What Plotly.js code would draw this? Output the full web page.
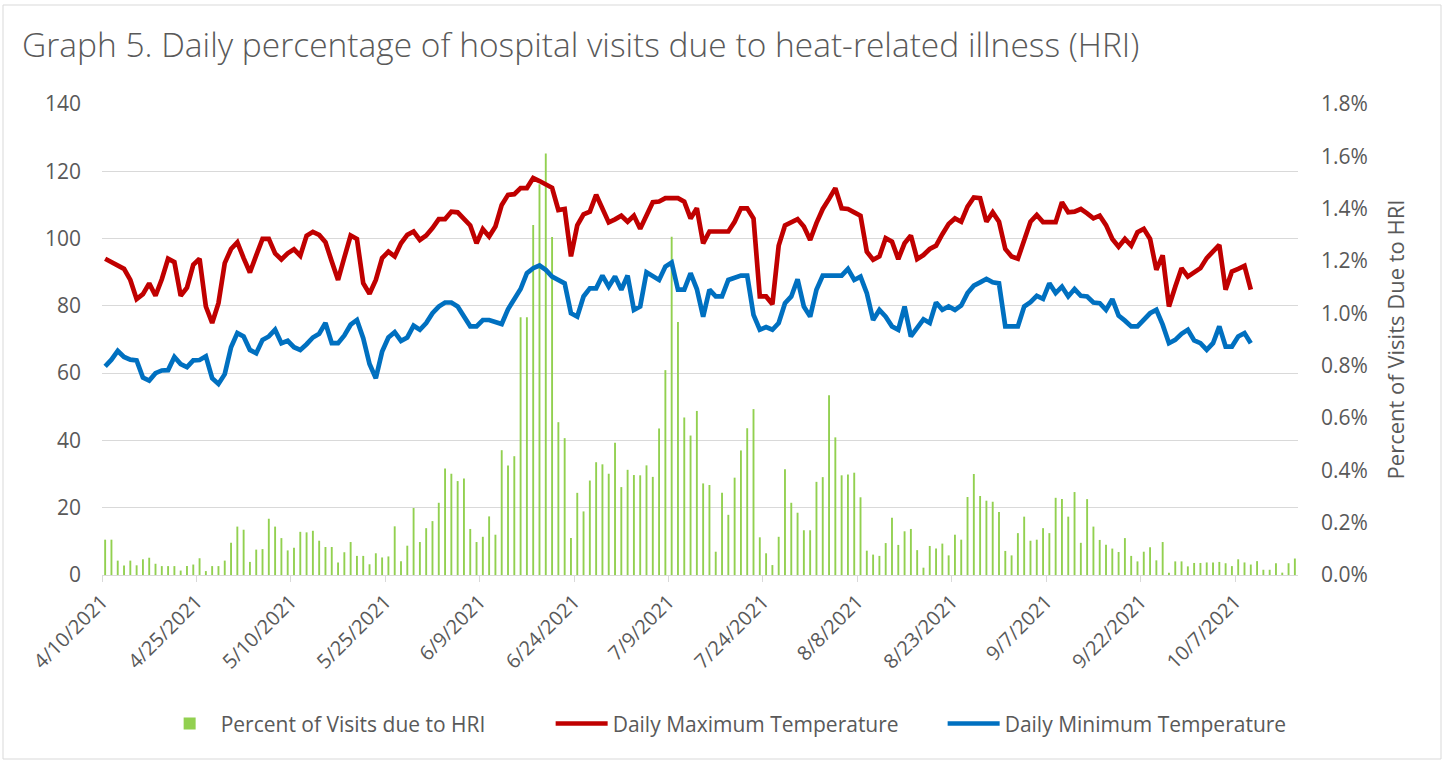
<!DOCTYPE html>
<html>
<head>
<meta charset="utf-8">
<script src="https://cdn.plot.ly/plotly-3.0.1.min.js"></script>
<style>html,body{margin:0;padding:0;background:#fff}#chart{width:1447px;height:762px}</style>
</head>
<body>
<div id="chart"></div>
<script>
// ---- data ----
var startDate = "2021-04-10";   // first day of the series (190 days to 10/16/2021)

// Percent of hospital visits due to HRI (in %), one per day from 4/10/2021
var hriPercent = [
  0.135, 0.135, 0.055, 0.036, 0.055, 0.037, 0.060, 0.066, 0.043, 0.034, 0.034, 0.034, 0.017, 0.034, 0.040, 0.064,
  0.015, 0.034, 0.034, 0.055, 0.123, 0.185, 0.173, 0.050, 0.097, 0.099, 0.215, 0.185, 0.141, 0.094, 0.104, 0.165,
  0.163, 0.169, 0.131, 0.107, 0.107, 0.048, 0.087, 0.126, 0.073, 0.073, 0.041, 0.083, 0.067, 0.071, 0.186, 0.053,
  0.112, 0.256, 0.126, 0.179, 0.206, 0.276, 0.407, 0.387, 0.359, 0.369, 0.176, 0.126, 0.146, 0.224,
  0.154, 0.477, 0.418, 0.454, 0.985, 0.985, 1.338, 1.493, 1.611, 1.292, 0.584, 0.523, 0.141, 0.314, 0.243, 0.361,
  0.431, 0.423, 0.387, 0.505, 0.336, 0.402, 0.382, 0.381, 0.419, 0.375, 0.560, 0.783, 1.293, 0.967, 0.602, 0.533,
  0.627, 0.350, 0.344, 0.089, 0.314, 0.230, 0.372, 0.476, 0.561, 0.634, 0.144, 0.083, 0.038, 0.146, 0.404, 0.276,
  0.238, 0.171, 0.171, 0.356, 0.374, 0.687, 0.526, 0.381, 0.384, 0.391, 0.297, 0.093, 0.078, 0.073, 0.122, 0.219,
  0.115, 0.167, 0.176, 0.095, 0.028, 0.111, 0.101, 0.120, 0.075, 0.154, 0.135, 0.298, 0.386, 0.302, 0.284, 0.280,
  0.241, 0.092, 0.075, 0.160, 0.223, 0.131, 0.135, 0.179, 0.160, 0.295, 0.290, 0.223, 0.317, 0.123, 0.290,
  0.185, 0.134, 0.116, 0.101, 0.088, 0.141, 0.073, 0.052, 0.089, 0.106, 0.056, 0.126, 0.009, 0.052, 0.052, 0.033,
  0.046, 0.046, 0.048, 0.048, 0.050, 0.045, 0.034, 0.060, 0.048, 0.040, 0.053, 0.020, 0.020, 0.045, 0.009, 0.045, 0.063
];

// Daily maximum temperature, 4/10/2021 .. 10/9/2021
var maxTemp = [
  94, 93, 92, 91, 87.7, 82, 83.5, 86.7, 83, 87.9, 94, 93, 83, 85.4, 92.2, 94, 79.8, 74.9, 80.8, 92.7, 96.9, 98.9,
  94.2, 89.9, 95, 99.9, 99.9, 95.6, 93.8, 95.6, 96.8, 94.9,
  100.8, 102, 101.1, 98.9, 93.2, 87.7, 94.4, 100.9, 99.9, 86.7, 83.6, 87.7, 94.2, 96.1, 94.7, 98.6, 101.1, 102.1,
  99.6, 100.9, 103.1, 105.8, 105.8, 108, 107.8, 106, 103.9, 98.6, 102.8, 100.6,
  103.6, 110, 113, 113.2, 115, 115, 118, 117.1, 116.1, 115.1, 108.5, 108.8, 94.7, 103.9, 107.2, 108, 113, 108.7,
  104.8, 105.7, 106.8, 105, 106.8, 102.9, 106.8, 110.8, 111, 112, 112, 112, 111, 106,
  109, 98.6, 102.1, 102.1, 102.1, 102.1, 105, 109, 109, 106, 82.8, 82.8, 80.5, 97.9, 103.9, 104.9, 105.8, 103.6,
  99.6, 104.6, 108.8, 111.8, 115, 109, 108.8, 107.8, 106.8, 96.1, 93.7, 94.7, 100.1, 99.1,
  93.9, 98.6, 100.9, 93.9, 95.1, 96.9, 97.9, 101.3, 104.3, 106, 105, 109.5, 112.2, 112, 105, 107.8, 105, 96.9,
  94.7, 94, 99.6, 105, 107, 104.9, 104.9, 104.9, 110.8, 107.8, 108, 108.8, 107.5,
  106, 106.8, 104, 99.9, 97.6, 99.9, 97.9, 101.9, 102.9, 99.9, 90.7, 95, 79.8, 85.7, 91.2, 88.7, 90, 91.2, 94.2,
  96.1, 98.1, 84.8, 90.2, 91, 91.9, 84.8
];

// Daily minimum temperature, 4/10/2021 .. 10/9/2021
var minTemp = [
  62, 64, 66.6, 64.8, 64, 63.8, 58.7, 57.8, 60, 60.8, 60.9, 64.8, 62.7, 61.8, 63.8, 63.9, 65, 58.5, 56.8, 59.7,
  67.7, 71.9, 70.9, 66.9, 65.9, 69.9, 70.9, 72.9, 68.9, 69.6, 67.7, 66.9,
  68.6, 70.6, 71.7, 74.9, 68.9, 68.9, 71.2, 74.4, 75.8, 70.4, 62.7, 58.5, 66.4, 70.6, 72.2, 69.6, 70.6, 74.1,
  72.9, 74.9, 77.8, 79.8, 81, 81, 79.8, 76.8, 73.9, 73.9, 75.8, 75.8,
  75.3, 74.6, 79, 82.1, 85, 89.7, 91.2, 92, 90.7, 88.7, 87.7, 86.7, 77.8, 76.8, 82.8, 85.2, 85.2, 89, 85.7, 88.7,
  84.8, 89, 78.8, 79.8, 90, 88.7, 87.7, 91.7, 92.9, 84.8, 84.8, 89.7,
  85, 76.8, 84.8, 82.8, 82.8, 87.7, 88.2, 89, 89, 77.3, 72.9, 73.7, 72.9, 74.9, 80.8, 82.8, 87.9, 79.8, 76.8,
  84.8, 89, 89, 89, 89, 91, 87.7, 88.7, 83.8, 75.8, 78.8, 76.8, 73.9,
  72.9, 79.8, 70.9, 73.4, 76, 74.9, 81, 78.8, 79.8, 78.8, 80.1, 83.8, 86, 87, 88, 87, 86.7, 73.9, 73.9, 73.9,
  79.8, 81.1, 83, 82.1, 86.7, 83.8, 85.7, 82.8, 85, 83, 82.8,
  81, 80.8, 78.8, 82, 77.1, 75.6, 73.9, 73.9, 75.8, 77.8, 78.8, 74.4, 68.9, 69.9, 71.7, 72.9, 69.7, 68.9, 66.9,
  68.9, 73.9, 67.9, 67.9, 70.9, 71.9, 68.9
];

var tickEveryDays = 15;
var leftTicks = [0, 20, 40, 60, 80, 100, 120, 140];
var rightTicks = [0, 0.2, 0.4, 0.6, 0.8, 1.0, 1.2, 1.4, 1.6, 1.8];
var rightTickText = ["0.0%", "0.2%", "0.4%", "0.6%", "0.8%", "1.0%", "1.2%", "1.4%", "1.6%", "1.8%"];

var seriesNames = ["Percent of Visits due to HRI", "Daily Maximum Temperature", "Daily Minimum Temperature"];
var chartTitle = "Graph 5. Daily percentage of hospital visits due to heat-related illness (HRI)";
var rightAxisTitle = "Percent of Visits Due to HRI";

// ---- build date categories ----
var DAY = 86400000;
var t0 = Date.parse(startDate + "T00:00:00Z");
function iso(ms) { return new Date(ms).toISOString().slice(0, 19).replace("T", " "); }
function dayX(i) { return iso(t0 + i * DAY + DAY / 2); }  // centre of each day's band
var nDays = hriPercent.length;
var xBars = hriPercent.map(function (_, i) { return dayX(i); });
var xMax = maxTemp.map(function (_, i) { return dayX(i); });
var xMin = minTemp.map(function (_, i) { return dayX(i); });

var tickVals = [], tickText = [];
for (var k = 0; k < nDays; k += tickEveryDays) {
  var d = new Date(t0 + k * DAY);
  tickVals.push(iso(t0 + k * DAY));
  tickText.push((d.getUTCMonth() + 1) + "/" + d.getUTCDate() + "/" + d.getUTCFullYear());
}

var FONT = "Open Sans, Noto Sans, sans-serif";
var GREY = "#595959";

var traces = [
  { type: "bar", name: seriesNames[0], x: xBars, y: hriPercent, yaxis: "y",
    marker: { color: "#92d050" }, hoverinfo: "x+y" },
  { type: "scatter", mode: "lines", name: seriesNames[1], x: xMax, y: maxTemp, yaxis: "y2",
    line: { color: "#c00000", width: 4.7 } },
  { type: "scatter", mode: "lines", name: seriesNames[2], x: xMin, y: minTemp, yaxis: "y2",
    line: { color: "#0070c0", width: 4.7 } }
];

var layout = {
  width: 1447, height: 762,
  paper_bgcolor: "#ffffff", plot_bgcolor: "#ffffff",
  margin: { l: 102, r: 149, t: 104, b: 187, pad: 0 },
  font: { family: FONT, color: GREY, size: 21 },
  title: { text: chartTitle, x: 0.0152, xanchor: "left", y: 0.94, yanchor: "middle",
           font: { family: FONT, size: 33.5, color: GREY, weight: 300 } },
  bargap: 0.7,
  showlegend: true,
  legend: { orientation: "h", x: 0.539, xanchor: "center", y: -0.316, yanchor: "middle",
            itemwidth: 52, entrywidth: 325, entrywidthmode: "pixels",
            font: { family: FONT, size: 21, color: GREY }, traceorder: "normal" },
  xaxis: {
    type: "date",
    range: [iso(t0), iso(t0 + nDays * DAY)],
    tickmode: "array", tickvals: tickVals, ticktext: tickText,
    tickangle: -45, ticks: "outside", ticklen: 6, tickcolor: "#d9d9d9",
    showline: true, linecolor: "#d9d9d9", linewidth: 1,
    showgrid: false, zeroline: false,
    tickfont: { family: FONT, size: 20, color: GREY }
  },
  yaxis: {
    side: "right", range: [0, 1.8], tickmode: "array", tickvals: rightTicks, ticktext: rightTickText,
    showgrid: false, zeroline: false, showline: false, ticks: "",
    ticklabelstandoff: 22,
    tickfont: { family: FONT, size: 21, color: GREY },
    title: { text: rightAxisTitle, font: { family: FONT, size: 22, color: GREY }, standoff: 21 }
  },
  yaxis2: {
    overlaying: "y", side: "left", range: [0, 140], tickmode: "array", tickvals: leftTicks,
    showgrid: true, gridcolor: "#d9d9d9", gridwidth: 1, zeroline: false, showline: false, ticks: "",
    ticklabelstandoff: 20,
    tickfont: { family: FONT, size: 21, color: GREY }
  },
  shapes: [
    { type: "rect", xref: "paper", yref: "paper",
      x0: (3 - 102) / 1196, x1: (1441 - 102) / 1196, y0: (575 - 759) / 471, y1: (575 - 5) / 471,
      line: { color: "#d9d9d9", width: 1 }, fillcolor: "rgba(0,0,0,0)", layer: "below" }
  ]
};

Plotly.newPlot("chart", traces, layout, { displayModeBar: false, staticPlot: true });
</script>
</body>
</html>
